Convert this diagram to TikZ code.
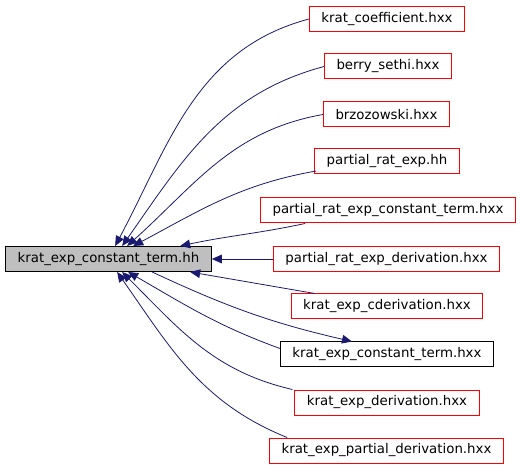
\documentclass[tikz,border=0pt]{standalone}
\usepackage{fontspec}
\setmainfont{DejaVu Sans}
\usetikzlibrary{positioning, calc, arrows.meta}
\definecolor{edgeblue}{HTML}{191970}

\begin{document}
\begin{tikzpicture}[x=0.75pt, y=0.75pt,
    file/.style={draw=red, line width=0.75pt, minimum height=18.75pt, inner xsep=9pt, inner ysep=0pt},
    mainfile/.style={file, draw=black, fill=black!25},
    dep/.style={draw=edgeblue, line width=0.6pt, -{Triangle[length=7.5pt,width=6.5pt]}}]
  \useasboundingbox (0,0) rectangle (520,467);
  % the header in the middle
  \node[mainfile] (mainhh) at (108.5,208) {krat\_exp\_constant\_term.hh};
  % files that include it
  \node[file] (coef) at (387,448) {krat\_coefficient.hxx};
  \node[file] (berry) at (388,400.5) {berry\_sethi.hxx};
  \node[file] (brzo) at (386.5,352.5) {brzozowski.hxx};
  \node[file] (prexp) at (387,306) {partial\_rat\_exp.hh};
  \node[file] (prect) at (388,256.5) {partial\_rat\_exp\_constant\_term.hxx};
  \node[file] (prder) at (386.5,208) {partial\_rat\_exp\_derivation.hxx};
  \node[file] (cder) at (387,160.5) {krat\_exp\_cderivation.hxx};
  \node[file, draw=black] (cterm) at (387,112.5) {krat\_exp\_constant\_term.hxx};
  \node[file] (kder) at (387,64.5) {krat\_exp\_derivation.hxx};
  \node[file] (kpder) at (386.5,16.5) {krat\_exp\_partial\_derivation.hxx};
  % upper edges
  \draw[dep] (coef.west) to[out=195, in=62] ($(mainhh.north west)+(110,0)$);
  \draw[dep] (berry.west) to[out=195, in=55] ($(mainhh.north west)+(117,0)$);
  \draw[dep] (brzo.west) to[out=190, in=42] ($(mainhh.north west)+(122,0)$);
  \draw[dep] ($(prexp.west)+(2,-10)$) to[out=190, in=28] ($(mainhh.north west)+(128,0)$);
  \draw[dep] ($(prect.south west)+(45,0)$) to[out=192, in=12] ($(mainhh.north west)+(175,0)$);
  \draw[dep] (prder.west) -- (mainhh.east);
  % lower edges
  \draw[dep] ($(cder.north west)+(24,0)$) -- ($(mainhh.south west)+(185,0)$);
  \draw[dep] ($(cterm.west)+(0,6)$) to[out=160, in=-30] ($(mainhh.south west)+(123,0)$);
  \draw[dep] ($(mainhh.south west)+(147,0)$) to[out=-25, in=167] ($(cterm.north west)+(72,0)$);
  \draw[dep] ($(kder.north west)+(-2,0)$) to[out=167, in=-45] ($(mainhh.south west)+(117,0)$);
  \draw[dep] ($(kpder.north west)+(18,0)$) to[out=158, in=-55] ($(mainhh.south west)+(112,0)$);
\end{tikzpicture}
\end{document}
